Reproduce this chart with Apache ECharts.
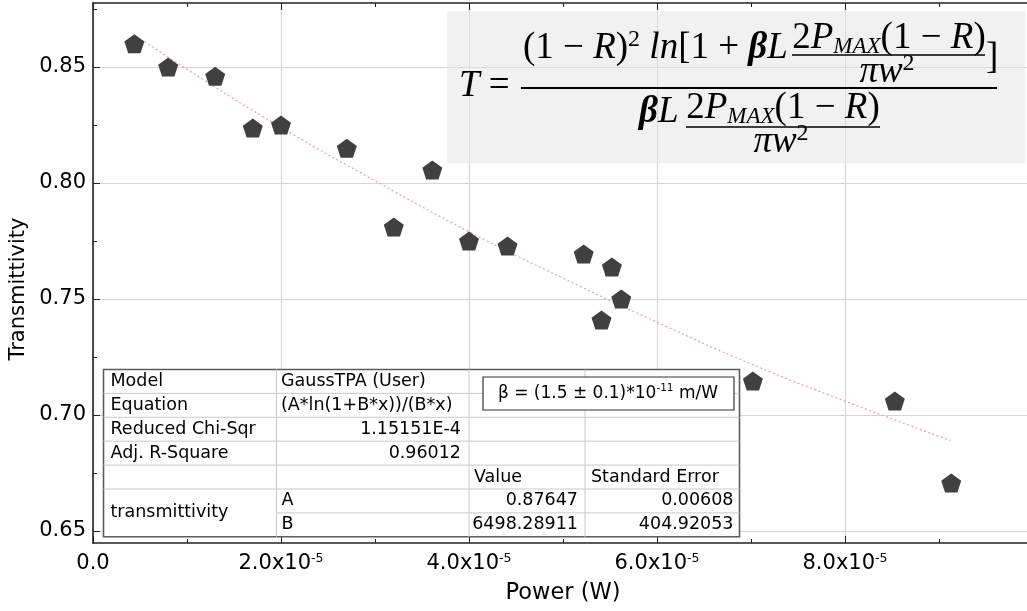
<!DOCTYPE html>
<html>
<head>
<meta charset="utf-8">
<script src="https://cdn.jsdelivr.net/npm/echarts@6/dist/echarts.min.js"></script>
<style>
html,body{margin:0;padding:0;background:#fff;}
#chart{width:1027px;height:611px;}
</style>
</head>
<body>
<div id="chart"></div>
<script>
// ---------------- data ----------------
const powerW = [4.4e-6, 8.0e-6, 1.30e-5, 1.70e-5, 2.00e-5, 2.70e-5, 3.20e-5, 3.61e-5, 4.00e-5, 4.41e-5, 5.22e-5, 5.52e-5, 5.62e-5, 5.41e-5, 7.02e-5, 8.53e-5, 9.13e-5];
const transmittivity = [0.860, 0.850, 0.846, 0.8237, 0.825, 0.815, 0.781, 0.8056, 0.775, 0.7728, 0.7694, 0.7638, 0.750, 0.741, 0.7147, 0.706, 0.6707];
// fitted curve
const fitPower = [0.55e-5, 1.0e-5, 2.0e-5, 3.0e-5, 4.0e-5, 5.0e-5, 6.0e-5, 7.0e-5, 8.0e-5, 9.12e-5];
const fitT = [0.861, 0.849, 0.824, 0.801, 0.779, 0.759, 0.740, 0.722, 0.706, 0.689];
const yTicks = [0.65, 0.70, 0.75, 0.80, 0.85];
const yMinorTicks = [0.675, 0.725, 0.775, 0.825, 0.875];
const xAxisName = 'Power (W)';
const yAxisName = 'Transmittivity';
// fit report table
const statLabels = ['Model', 'Equation', 'Reduced Chi-Sqr', 'Adj. R-Square'];
const statValues = ['GaussTPA (User)', '(A*ln(1+B*x))/(B*x)', '1.15151E-4', '0.96012'];
const paramHeader = ['Value', 'Standard Error'];
const paramGroup = 'transmittivity';
const paramNames = ['A', 'B'];
const paramValues = ['0.87647', '6498.28911'];
const paramErrors = ['0.00608', '404.92053'];
const betaMain = 'β = (1.5 ± 0.1)*10';
const betaExp = '-11';
const betaUnit = ' m/W';

// ---------------- chart ----------------
const chart = echarts.init(document.getElementById('chart'), null, {renderer: 'canvas'});
const SANS = 'DejaVu Sans';
const SERIF = 'Liberation Serif';
const AX = '#222';

// table layout
const cols = [103.5, 276.5, 469, 585, 739.5];
const ty0 = 369.5, rowH = 23.9, nRows = 7;
const tfs = 17.5;
const graphics = [];
function txt(x, y, text, align, extra) {
  const st = Object.assign({text: text, x: 0, y: 0, fill: '#000', font: tfs + 'px "' + SANS + '"',
    fontSize: tfs, fontFamily: SANS, align: align, textAlign: align, verticalAlign: 'middle', textVerticalAlign: 'middle'}, extra || {});
  graphics.push({type: 'text', x: x, y: y, z: 101, silent: true, style: st});
}
function line(x1, y1, x2, y2, stroke, w, z) {
  graphics.push({type: 'line', z: z || 101, silent: true, shape: {x1: x1, y1: y1, x2: x2, y2: y2}, style: {stroke: stroke, lineWidth: w}});
}
const tW = cols[4] - cols[0], tH = rowH * nRows;
graphics.push({type: 'rect', z: 100, silent: true, shape: {x: cols[0], y: ty0, width: tW, height: tH}, style: {fill: '#fff', stroke: '#5c5c5c', lineWidth: 1.6}});
for (let r = 1; r < nRows; r++) {
  const y = ty0 + r * rowH;
  line(r === 6 ? cols[1] : cols[0], y, cols[4], y, '#c9c9c9', 1);
}
for (let c = 1; c < 4; c++) line(cols[c], ty0, cols[c], ty0 + tH, '#c9c9c9', 1);
const rc = r => ty0 + (r + 0.5) * rowH;
for (let i = 0; i < statLabels.length; i++) {
  txt(cols[0] + 7, rc(i), statLabels[i], 'left');
  if (i < 2) txt(cols[1] + 4.5, rc(i), statValues[i], 'left');
  else txt(cols[2] - 8, rc(i), statValues[i], 'right');
}
txt(cols[2] + 5, rc(4), paramHeader[0], 'left');
txt(cols[3] + 6, rc(4), paramHeader[1], 'left');
txt(cols[0] + 7, ty0 + 6 * rowH, paramGroup, 'left');
for (let i = 0; i < paramNames.length; i++) {
  txt(cols[1] + 5, rc(5 + i), paramNames[i], 'left');
  txt(cols[3] - 7, rc(5 + i), paramValues[i], 'right');
  txt(cols[4] - 6, rc(5 + i), paramErrors[i], 'right');
}
// beta box
graphics.push({type: 'rect', z: 102, silent: true, shape: {x: 483, y: 377, width: 251, height: 33}, style: {fill: '#fff', stroke: '#333', lineWidth: 1.2}});
graphics.push({type: 'text', x: 608, y: 394, z: 103, silent: true, style: {
  text: '{n|' + betaMain + '}{s|' + betaExp + '}{n|' + betaUnit + '}',
  align: 'center', textAlign: 'center', verticalAlign: 'middle', textVerticalAlign: 'middle',
  rich: {
    n: {fontSize: 17, fontFamily: SANS, color: '#000', lineHeight: 22},
    s: {fontSize: 10.5, fontFamily: SANS, color: '#000', lineHeight: 11, verticalAlign: 'top'}
  }}});

// y axis title (placed as in the reference, slightly below the plot centre)
graphics.push({type: 'text', x: 19, y: 289, rotation: Math.PI / 2, z: 50, silent: true, style: {
  text: yAxisName, fill: '#000', fontSize: 21, fontFamily: SANS, font: '21px "' + SANS + '"',
  align: 'center', textAlign: 'center', verticalAlign: 'middle', textVerticalAlign: 'middle'}});

// formula box
graphics.push({type: 'rect', z: 100, silent: true, shape: {x: 447, y: 11, width: 578, height: 152}, style: {fill: 'rgba(225,225,225,0.45)'}});
const FS = 37;
const fr = {
  n: {fontSize: FS, fontFamily: SERIF, color: '#000', lineHeight: 40},
  i: {fontSize: FS, fontFamily: SERIF, fontStyle: 'italic', color: '#000', lineHeight: 40},
  r: {fontSize: FS, fontFamily: SERIF, fontStyle: 'italic', color: '#ff0000', lineHeight: 40},
  b: {fontSize: FS, fontFamily: SERIF, fontStyle: 'italic', fontWeight: 'bold', color: '#000', lineHeight: 40},
  sup: {fontSize: 24, fontFamily: SERIF, color: '#000', lineHeight: 20, verticalAlign: 'top'},
  sub: {fontSize: 23, fontFamily: SERIF, fontStyle: 'italic', color: '#ff0000', lineHeight: 18, verticalAlign: 'bottom'}
};
function ftxt(x, y, text, align) {
  graphics.push({type: 'text', x: x, y: y, z: 101, silent: true, style: {
    text: text, align: align, textAlign: align, verticalAlign: 'middle', textVerticalAlign: 'middle', rich: fr}});
}
const fracNum = '{n|2}{r|P}{sub|MAX}{n|(1 − }{r|R}{n|)}';
const fracDen = '{i|π}{r|w}{sup|2}';
ftxt(459, 86, '{i|T}{n| =}', 'left');
ftxt(523, 48, '{n|(1 − }{r|R}{n|)}{sup|2}{n| }{i|ln}{n|[1 + }{b|β}{r|L}', 'left');
ftxt(889, 38, fracNum, 'center');
line(792, 55, 985, 55, '#000', 1.6);
ftxt(887, 72, fracDen, 'center');
ftxt(986, 58, '{n|]}', 'left');
line(521, 88, 997, 88, '#000', 2);
ftxt(639, 112, '{b|β}{r|L}', 'left');
ftxt(783, 108, fracNum, 'center');
line(686, 127, 880, 127, '#000', 1.6);
ftxt(781, 142, fracDen, 'center');

const scatterData = powerW.map((x, i) => [x, transmittivity[i]]);
const fitData = fitPower.map((x, i) => [x, fitT[i]]);

const xLabelFmt = v => {
  if (v > 9e-5) return '';
  if (v === 0) return '{m|0.0}';
  return '{m|' + (v * 1e5).toFixed(1) + 'x10}{s|-5}';
};

const option = {
  animation: false,
  backgroundColor: '#fff',
  grid: {left: 93, width: 940, top: 3, bottom: 68, containLabel: false, outerBoundsMode: 'none'},
  xAxis: [{
    type: 'value', position: 'bottom', min: 0, max: 1e-4, interval: 2e-5,
    name: xAxisName, nameLocation: 'middle', nameGap: 39,
    nameTextStyle: {fontSize: 22.5, fontFamily: SANS, color: '#000'},
    axisLine: {show: true, onZero: false, lineStyle: {color: AX, width: 1.6}},
    axisTick: {show: true, inside: true, length: 7, lineStyle: {color: AX, width: 1}},
    minorTick: {show: true, splitNumber: 2, length: 4, lineStyle: {color: AX, width: 1}},
    splitLine: {show: true, lineStyle: {color: '#d5d5d5', width: 1.2}},
    axisLabel: {margin: 9, formatter: xLabelFmt, rich: {
      m: {fontSize: 21, fontFamily: SANS, color: '#000', lineHeight: 24},
      s: {fontSize: 12.5, fontFamily: SANS, color: '#000', lineHeight: 13, verticalAlign: 'top'}
    }}
  }, {
    type: 'value', position: 'top', min: 0, max: 1e-4, interval: 2e-5,
    axisLine: {show: true, onZero: false, lineStyle: {color: AX, width: 1.6}},
    axisTick: {show: true, inside: true, length: 7, lineStyle: {color: AX, width: 1}},
    minorTick: {show: true, splitNumber: 2, length: 4, lineStyle: {color: AX, width: 1}},
    splitLine: {show: false}, axisLabel: {show: false}
  }],
  yAxis: [{
    type: 'value', position: 'left', min: 0.64483, max: 0.87759, splitNumber: 5,
    axisLine: {show: true, onZero: false, lineStyle: {color: AX, width: 1.6}},
    axisTick: {show: true, inside: true, length: 7, customValues: yTicks, lineStyle: {color: AX, width: 1}},
    splitLine: {show: true, lineStyle: {color: '#d5d5d5', width: 1.2}},
    axisLabel: {margin: 7, customValues: yTicks, formatter: v => v.toFixed(2), fontSize: 21, fontFamily: SANS, color: '#000'}
  }, {
    type: 'value', position: 'left', min: 0.64483, max: 0.87759,
    axisLine: {show: false},
    axisTick: {show: true, inside: true, length: 4, customValues: yMinorTicks, lineStyle: {color: AX, width: 1}},
    splitLine: {show: false}, axisLabel: {show: false}
  }],
  graphic: {elements: graphics},
  series: [{
    type: 'line', name: 'fit', data: fitData, xAxisIndex: 0, yAxisIndex: 0,
    showSymbol: false, symbol: 'none', smooth: true, silent: true, z: 2,
    lineStyle: {color: '#f29a9a', width: 1.2, type: [2, 2.5]}
  }, {
    type: 'scatter', name: 'transmittivity', data: scatterData, xAxisIndex: 0, yAxisIndex: 0,
    symbol: 'path://M0,-1L0.9511,-0.309L0.5878,0.809L-0.5878,0.809L-0.9511,-0.309Z',
    symbolSize: [20, 19], z: 3,
    itemStyle: {color: '#404040', opacity: 1}
  }]
};
chart.setOption(option);
</script>
</body>
</html>
